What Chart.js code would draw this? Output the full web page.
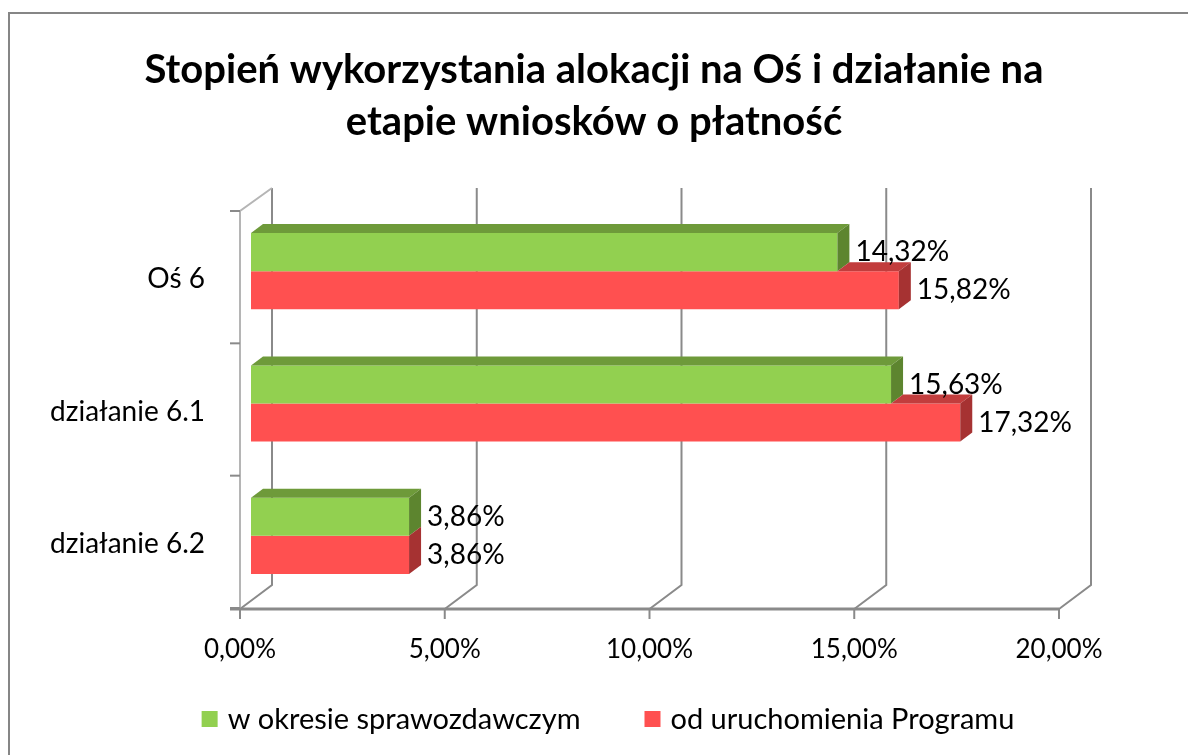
<!DOCTYPE html>
<html>
<head>
<meta charset="utf-8">
<script src="https://cdn.jsdelivr.net/npm/chart.js@4"></script>
<style>
  html, body { margin: 0; padding: 0; background: #fff; }
</style>
</head>
<body>
<canvas id="myChart" width="1188" height="755"></canvas>
<script>
const categories = ['Oś 6', 'działanie 6.1', 'działanie 6.2'];
const seriesNames = ['w okresie sprawozdawczym', 'od uruchomienia Programu'];
const wOkresie = [14.32, 15.63, 3.86];
const odUruchomienia = [15.82, 17.32, 3.86];
const xTicks = [0, 5, 10, 15, 20];

const FONT = 'Lato';
const pct = v => v.toFixed(2).replace('.', ',') + '%';

// 3d look: depth of bars, and where front/back walls sit relative to the bars
const DX = 12, DY = 9;
const FRONT = { dx: -11, dy: 6 };
const BACK = { dx: 21, dy: -17 };
const faceColors = [
  { top: '#6e9a3a', side: '#5d852f' },
  { top: '#c23d3d', side: '#a63232' }
];

const frame = {
  id: 'frame',
  beforeDraw(chart) {
    const ctx = chart.ctx;
    ctx.save();
    ctx.strokeStyle = '#868686';
    ctx.lineWidth = 2;
    ctx.beginPath();
    ctx.moveTo(9, 755);
    ctx.lineTo(9, 13);
    ctx.lineTo(1188, 13);
    ctx.stroke();
    ctx.restore();
  }
};

const walls = {
  id: 'walls',
  beforeDatasetsDraw(chart) {
    const ctx = chart.ctx;
    const xs = chart.scales.x;
    const a = chart.chartArea;
    ctx.save();
    ctx.strokeStyle = '#8a8a8a';
    ctx.lineWidth = 2;
    // back wall grid lines + floor diagonals
    xTicks.forEach(v => {
      const x = xs.getPixelForValue(v);
      ctx.beginPath();
      ctx.moveTo(x + BACK.dx, a.top + BACK.dy);
      ctx.lineTo(x + BACK.dx, a.bottom + BACK.dy);
      ctx.lineTo(x + FRONT.dx, a.bottom + FRONT.dy + 1);
      ctx.stroke();
    });
    // left wall front edge
    const lx = a.left + FRONT.dx;
    ctx.strokeStyle = '#b5b5b5';
    ctx.beginPath();
    ctx.moveTo(lx, a.bottom + FRONT.dy);
    ctx.lineTo(lx, a.top + FRONT.dy);
    ctx.lineTo(a.left + BACK.dx, a.top + BACK.dy);
    ctx.stroke();
    // category ticks on the left
    ctx.strokeStyle = '#8a8a8a';
    const n = categories.length;
    for (let i = 0; i <= n; i++) {
      const y = a.top + FRONT.dy + i * (a.bottom - a.top) / n;
      ctx.beginPath();
      ctx.moveTo(lx - 10, y);
      ctx.lineTo(lx, y);
      ctx.stroke();
    }
    // front axis line
    const ay = a.bottom + FRONT.dy + 1;
    ctx.lineWidth = 3;
    ctx.beginPath();
    ctx.moveTo(lx - 10, ay);
    ctx.lineTo(xs.getPixelForValue(20) + FRONT.dx, ay);
    ctx.stroke();
    ctx.lineWidth = 2;
    xTicks.forEach(v => {
      const x = xs.getPixelForValue(v) + FRONT.dx;
      ctx.beginPath();
      ctx.moveTo(x, ay);
      ctx.lineTo(x, ay + 10);
      ctx.stroke();
    });
    ctx.restore();
  }
};

const bars3d = {
  id: 'bars3d',
  afterDatasetsDraw(chart) {
    const ctx = chart.ctx;
    ctx.save();
    chart.data.datasets.forEach((ds, k) => {
      const meta = chart.getDatasetMeta(k);
      meta.data.forEach((bar, i) => {
        const top = bar.y - bar.height / 2;
        const bottom = bar.y + bar.height / 2;
        let start = bar.base;
        for (let j = 0; j < k; j++) {
          start = Math.max(start, chart.getDatasetMeta(j).data[i].x);
        }
        if (bar.x > start) {
          ctx.fillStyle = faceColors[k].top;
          ctx.beginPath();
          ctx.moveTo(start, top);
          ctx.lineTo(bar.x, top);
          ctx.lineTo(bar.x + DX, top - DY);
          ctx.lineTo(start + DX, top - DY);
          ctx.closePath();
          ctx.fill();
        }
        ctx.fillStyle = faceColors[k].side;
        ctx.beginPath();
        ctx.moveTo(bar.x, top);
        ctx.lineTo(bar.x + DX, top - DY);
        ctx.lineTo(bar.x + DX, bottom - DY);
        ctx.lineTo(bar.x, bottom);
        ctx.closePath();
        ctx.fill();
      });
    });
    // value labels
    ctx.fillStyle = '#000';
    ctx.font = '28px ' + FONT;
    ctx.textAlign = 'left';
    ctx.textBaseline = 'middle';
    chart.data.datasets.forEach((ds, k) => {
      chart.getDatasetMeta(k).data.forEach((bar, i) => {
        ctx.fillText(pct(ds.data[i]), bar.x + 18, bar.y);
      });
    });
    ctx.restore();
  }
};

const legendBottom = {
  id: 'legendBottom',
  afterDraw(chart) {
    const ctx = chart.ctx;
    ctx.save();
    ctx.font = '29px ' + FONT;
    ctx.textBaseline = 'middle';
    const box = 16, gap = 10, itemGap = 64, cy = 719;
    const widths = chart.data.datasets.map(ds => ctx.measureText(ds.label).width);
    const total = widths.reduce((s, w) => s + box + gap + w, 0) + itemGap * (widths.length - 1);
    let x = 608 - total / 2;
    chart.data.datasets.forEach((ds, k) => {
      ctx.fillStyle = ds.backgroundColor;
      ctx.fillRect(x, cy - box / 2, box, box);
      ctx.fillStyle = '#000';
      ctx.fillText(ds.label, x + box + gap, cy + 1);
      x += box + gap + widths[k] + itemGap;
    });
    ctx.restore();
  }
};

new Chart(document.getElementById('myChart'), {
  type: 'bar',
  data: {
    labels: categories,
    datasets: [
      { label: seriesNames[0], data: wOkresie, backgroundColor: '#92d050' },
      { label: seriesNames[1], data: odUruchomienia, backgroundColor: '#ff5050' }
    ]
  },
  options: {
    indexAxis: 'y',
    responsive: false,
    animation: false,
    layout: { padding: 0 },
    datasets: { bar: { barPercentage: 1, categoryPercentage: 0.575, borderWidth: 0 } },
    plugins: {
      legend: { display: false },
      tooltip: { enabled: false },
      title: {
        display: true,
        text: ['Stopień wykorzystania alokacji na Oś i działanie na', 'etapie wniosków o płatność'],
        color: '#000',
        font: { family: FONT, size: 40, weight: 'bold', lineHeight: 1.3 },
        padding: { top: 44, bottom: 57 }
      }
    },
    scales: {
      x: {
        min: 0,
        max: 20,
        grid: { display: false },
        border: { display: false },
        afterBuildTicks: s => { s.ticks = xTicks.map(v => ({ value: v })); },
        afterFit: s => { s.height = 153; },
        ticks: {
          callback: v => pct(v),
          color: '#000',
          font: { family: FONT, size: 26 },
          padding: 24,
          labelOffset: FRONT.dx,
          maxRotation: 0
        }
      },
      y: {
        grid: { display: false },
        border: { display: false },
        afterFit: s => { s.width = 251; },
        ticks: {
          color: '#000',
          font: { family: FONT, size: 28 },
          padding: 38,
          labelOffset: 8
        }
      },
      // empty spacer on the right so the plot ends where the reference does
      yRight: {
        type: 'linear',
        position: 'right',
        grid: { display: false },
        border: { display: false },
        ticks: { display: false },
        afterFit: s => { s.width = 118; }
      }
    }
  },
  plugins: [frame, walls, bars3d, legendBottom]
});
</script>
</body>
</html>
